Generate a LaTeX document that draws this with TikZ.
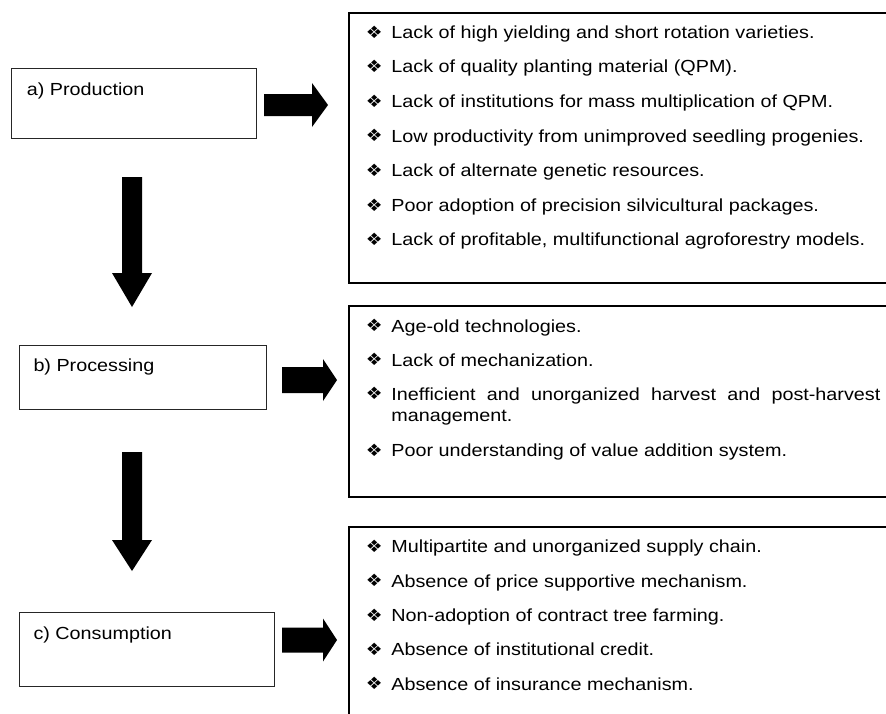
\documentclass[tikz,border=0pt]{standalone}
\usepackage{fontspec}
\setmainfont[FakeStretch=1.13]{Liberation Sans}
\newfontfamily\djfont[FakeStretch=1.1]{DejaVu Sans}
\newcommand\bul{{\djfont\fontsize{17}{17}\selectfont ❖}}
\newcommand\itm[1]{\makebox[24.5pt][l]{\hspace{-1pt}\raisebox{0.3pt}{\bul}}#1}
\begin{document}
\begin{tikzpicture}[x=1pt,y=-1pt,
  lbox/.style={draw=black!85,line width=1.4pt,rectangle,inner sep=0pt,anchor=north west},
  rbox/.style={draw=black,line width=2pt,rectangle,inner sep=0pt,anchor=north west,minimum width=600pt},
  txt/.style={inner sep=0pt,anchor=base west,font=\fontsize{17.5}{21}\selectfont},
  blk/.style={fill=black}]
\clip (0,0) rectangle (886,713);
\fill[white] (0,0) rectangle (886,713);
% left boxes
\node[lbox,minimum width=245pt,minimum height=70pt] (prod) at (11,68) {};
\node[txt] (prodt) at (26.7,95.7) {a) Production};
\node[lbox,minimum width=247pt,minimum height=64pt] (proc) at (18.5,345) {};
\node[txt] (proct) at (33.3,371.5) {b) Processing};
\node[lbox,minimum width=255.5pt,minimum height=74pt] (cons) at (18.5,612) {};
\node[txt] (const) at (33.3,639.3) {c) Consumption};
% right boxes
\node[rbox,minimum height=270pt] (r1) at (348,12) {};
\node[rbox,minimum height=191pt] (r2) at (348,305) {};
\node[rbox,minimum height=220pt] (r3) at (348,526) {};
% top list
\node[txt] (a1) at (366.7,38.3) {\itm{Lack of high yielding and short rotation varieties.}};
\node[txt] (a2) at (366.7,72.9) {\itm{Lack of quality planting material (QPM).}};
\node[txt] (a3) at (366.7,107.5) {\itm{Lack of institutions for mass multiplication of QPM.}};
\node[txt] (a4) at (366.7,142.1) {\itm{Low productivity from unimproved seedling progenies.}};
\node[txt] (a5) at (366.7,176.7) {\itm{Lack of alternate genetic resources.}};
\node[txt] (a6) at (366.7,211.3) {\itm{Poor adoption of precision silvicultural packages.}};
\node[txt] (a7) at (366.7,245.9) {\itm{Lack of profitable, multifunctional agroforestry models.}};
% middle list
\node[txt] (b1) at (366.7,332) {\itm{Age-old technologies.}};
\node[txt] (b2) at (366.7,366) {\itm{Lack of mechanization.}};
\node[txt] (b3) at (366.7,400) {\itm{\makebox[489pt][s]{Inefficient and unorganized harvest and post-harvest}}};
\node[txt] (b3b) at (391.2,421.7) {management.};
\node[txt] (b4) at (366.7,456.7) {\itm{Poor understanding of value addition system.}};
% bottom list
\node[txt] (c1) at (366.7,552.7) {\itm{Multipartite and unorganized supply chain.}};
\node[txt] (c2) at (366.7,587) {\itm{Absence of price supportive mechanism.}};
\node[txt] (c3) at (366.7,621.3) {\itm{Non-adoption of contract tree farming.}};
\node[txt] (c4) at (366.7,655.6) {\itm{Absence of institutional credit.}};
\node[txt] (c5) at (366.7,690) {\itm{Absence of insurance mechanism.}};
% block arrows (right)
\coordinate (ra1) at (264,105);
\fill[blk] (ra1) ++(0,-11) -- ++(48,0) -- ++(0,-11) -- ++(16,22) -- ++(-16,22) -- ++(0,-11) -- ++(-48,0) -- cycle;
\coordinate (ra2) at (282,380);
\fill[blk] (ra2) ++(0,-13) -- ++(41,0) -- ++(0,-8) -- ++(14,21) -- ++(-14,21) -- ++(0,-8) -- ++(-41,0) -- cycle;
\coordinate (ra3) at (282,640);
\fill[blk] (ra3) ++(0,-12.5) -- ++(41,0) -- ++(0,-9) -- ++(14,21.5) -- ++(-14,21.5) -- ++(0,-9) -- ++(-41,0) -- cycle;
% block arrows (down)
\coordinate (da1) at (132,177);
\fill[blk] (da1) ++(-10,0) -- ++(0,96) -- ++(-10,0) -- ++(20,34) -- ++(20,-34) -- ++(-10,0) -- ++(0,-96) -- cycle;
\coordinate (da2) at (132,452);
\fill[blk] (da2) ++(-10,0) -- ++(0,88) -- ++(-10,0) -- ++(20,31) -- ++(20,-31) -- ++(-10,0) -- ++(0,-88) -- cycle;
\end{tikzpicture}
\end{document}
